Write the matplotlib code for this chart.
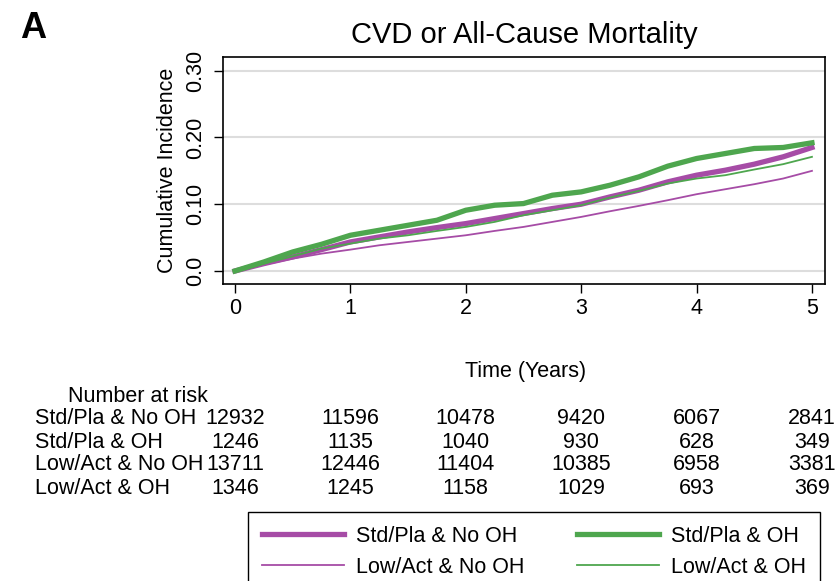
import numpy as np
import matplotlib as mpl
mpl.use('Agg')
from matplotlib import pyplot as plt
from matplotlib import transforms

plt.rcParams['font.family'] = ['Liberation Sans', 'DejaVu Sans']

# cumulative incidence
years = [0, 0.25, 0.5, 0.75, 1, 1.25, 1.5, 1.75, 2, 2.25, 2.5, 2.75,
         3, 3.25, 3.5, 3.75, 4, 4.25, 4.5, 4.75, 5]
std_no_oh = [0, 0.011, 0.021, 0.032, 0.0435, 0.051, 0.0585, 0.065, 0.071, 0.0785, 0.086, 0.0935,
             0.1, 0.111, 0.121, 0.1335, 0.1435, 0.151, 0.16, 0.171, 0.185]
std_oh = [0, 0.0135, 0.0285, 0.04, 0.0535, 0.061, 0.0685, 0.076, 0.091, 0.0985, 0.101, 0.1135,
          0.1185, 0.1285, 0.141, 0.157, 0.1685, 0.176, 0.1835, 0.185, 0.192]
low_no_oh = [0, 0.0095, 0.0185, 0.026, 0.032, 0.0385, 0.0435, 0.0485, 0.0535, 0.06, 0.066, 0.0735,
             0.081, 0.0895, 0.0975, 0.106, 0.115, 0.1225, 0.13, 0.1385, 0.15]
low_oh = [0, 0.011, 0.022, 0.0335, 0.041, 0.0485, 0.0535, 0.06, 0.066, 0.0735, 0.0835, 0.091,
          0.0985, 0.11, 0.12, 0.131, 0.1385, 0.1435, 0.152, 0.16, 0.171]

risk_times = [0, 1, 2, 3, 4, 5]
risk_groups = ['Std/Pla & No OH', 'Std/Pla & OH', 'Low/Act & No OH', 'Low/Act & OH']
risk_counts = [[12932, 11596, 10478, 9420, 6067, 2841],
               [1246, 1135, 1040, 930, 628, 349],
               [13711, 12446, 11404, 10385, 6958, 3381],
               [1346, 1245, 1158, 1029, 693, 369]]

PURPLE = '#a64ca6'
GREEN = '#4ea64e'
W, H = 836, 581

fig = plt.figure(figsize=(W / 100, H / 100), dpi=100)
ax = fig.add_axes([223 / W, 1 - 284 / H, (825 - 223) / W, (284 - 57.3) / H])

ax.plot(years, std_no_oh, color=PURPLE, lw=3.8, solid_joinstyle='miter', label='Std/Pla & No OH', zorder=3)
ax.plot(years, low_no_oh, color=PURPLE, lw=1.3, label='Low/Act & No OH', zorder=3)
ax.plot(years, std_oh, color=GREEN, lw=3.8, solid_joinstyle='miter', label='Std/Pla & OH', zorder=3)
ax.plot(years, low_oh, color=GREEN, lw=1.3, label='Low/Act & OH', zorder=4)

ax.set_xlim(-0.104, 5.113)
ax.set_ylim(-0.0195, 0.3201)
ax.set_xticks(risk_times)
ax.set_yticks([0, 0.1, 0.2, 0.3])
ax.set_yticklabels(['0.0', '0.10', '0.20', '0.30'], rotation=90, va='center')
ax.tick_params(labelsize=15.5, length=6.5, width=1, direction='out')
ax.tick_params(axis='y', pad=6)
ax.yaxis.grid(True, color='#dddddd', lw=1.5)
ax.set_axisbelow(True)
for s in ax.spines.values():
    s.set_linewidth(1.2)
ax.set_ylabel('Cumulative Incidence', fontsize=15.5)
ax.yaxis.set_label_coords(-0.0748, 0.5)
ax.set_title('CVD or All-Cause Mortality', fontsize=21, pad=10)

fig.text(20 / W, 1 - 28 / H, 'A', fontsize=26, fontweight='bold', va='center', ha='left')
fig.text(526 / W, 1 - 372 / H, 'Time (Years)', fontsize=15.5, ha='center', va='center')

# number at risk table
tr = transforms.blended_transform_factory(ax.transData, fig.transFigure)
fig.text(68 / W, 1 - 397 / H, 'Number at risk', fontsize=15.5, va='center')
row_y = [419, 442, 465, 488]
for grp, counts, yy in zip(risk_groups, risk_counts, row_y):
    fig.text(35 / W, 1 - yy / H, grp, fontsize=15.5, va='center')
    for t, n in zip(risk_times, counts):
        fig.text(t, 1 - yy / H, str(n), fontsize=15.5, va='center', ha='center', transform=tr)

h, l = ax.get_legend_handles_labels()
leg = fig.legend(h, l, loc='upper left', ncol=2, fontsize=15.5,
                 bbox_to_anchor=(248 / W, 1 - 512 / H, (820 - 248) / W, 0.0), mode='expand',
                 borderaxespad=0, frameon=True, fancybox=False, edgecolor='black', framealpha=1,
                 handlelength=3.8, handletextpad=0.55, borderpad=0.65, labelspacing=0.45,
                 columnspacing=0.5)
leg.get_frame().set_linewidth(1.0)

plt.savefig('out.png', dpi=100)
